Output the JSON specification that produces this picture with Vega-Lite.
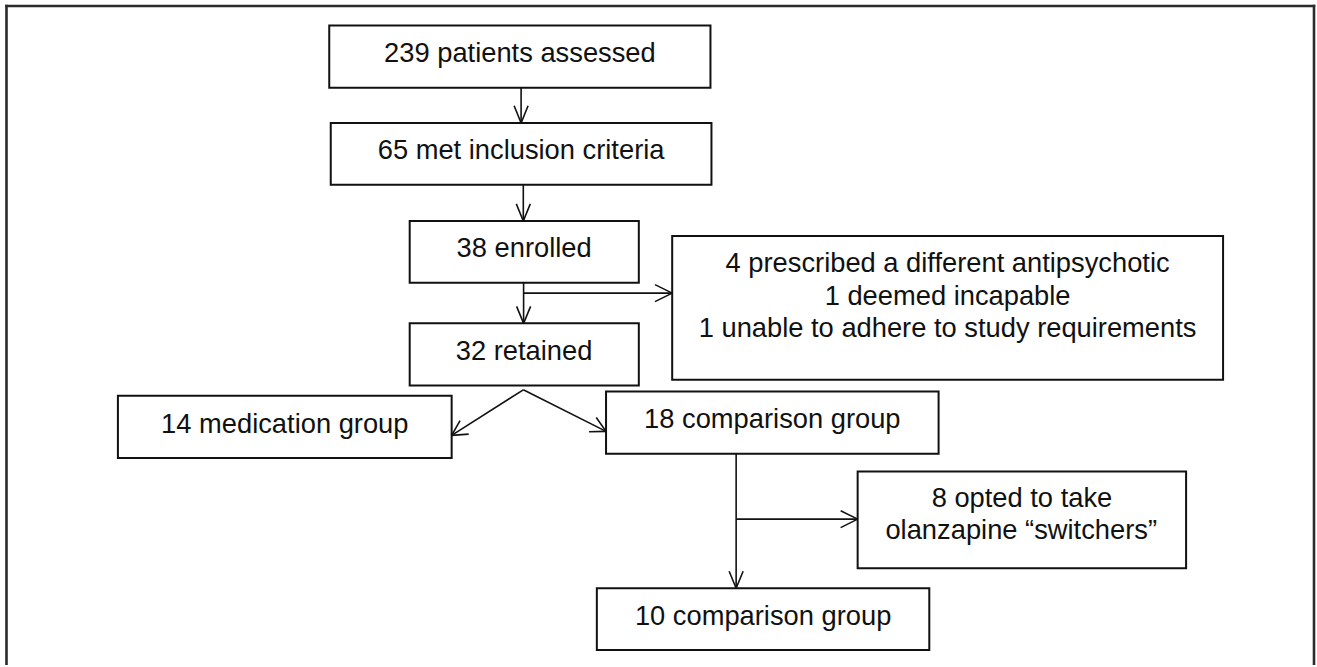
{
  "$schema": "https://vega.github.io/schema/vega-lite/v6.json",
  "width": 1317,
  "height": 667,
  "padding": 0,
  "autosize": {"type": "fit", "contains": "padding"},
  "background": "white",
  "config": {"view": {"stroke": null}},
  "datasets": {
    "boxes": [
      {"id": "assessed", "x": 329.5, "x2": 711, "y": 25.7, "y2": 88},
      {"id": "inclusion", "x": 331, "x2": 712, "y": 123.3, "y2": 185.3},
      {"id": "enrolled", "x": 410, "x2": 639.3, "y": 221.7, "y2": 283.7},
      {"id": "retained", "x": 410, "x2": 639.3, "y": 324.3, "y2": 386.7},
      {"id": "excluded", "x": 672.7, "x2": 1224, "y": 236.7, "y2": 381},
      {"id": "medication", "x": 118, "x2": 452, "y": 397, "y2": 459.3},
      {"id": "comparison18", "x": 606.5, "x2": 939.3, "y": 392.7, "y2": 455},
      {"id": "switchers", "x": 858.3, "x2": 1187, "y": 473, "y2": 570},
      {"id": "comparison10", "x": 597.3, "x2": 930, "y": 590, "y2": 652}
    ],
    "segments": [
      {"x": 521.5, "y": 88, "x2": 521.5, "y2": 123.3},
      {"x": 514.5, "y": 106, "x2": 521.5, "y2": 123.3},
      {"x": 528.5, "y": 106, "x2": 521.5, "y2": 123.3},
      {"x": 523.7, "y": 185.3, "x2": 523.7, "y2": 221.7},
      {"x": 516.7, "y": 204.5, "x2": 523.7, "y2": 221.7},
      {"x": 530.7, "y": 204.5, "x2": 523.7, "y2": 221.7},
      {"x": 524, "y": 283.7, "x2": 524, "y2": 324.3},
      {"x": 517, "y": 307.3, "x2": 524, "y2": 324.3},
      {"x": 531, "y": 307.3, "x2": 524, "y2": 324.3},
      {"x": 524, "y": 294, "x2": 672.7, "y2": 294},
      {"x": 655.5, "y": 285.5, "x2": 672.7, "y2": 294},
      {"x": 655.5, "y": 302.5, "x2": 672.7, "y2": 294},
      {"x": 523.7, "y": 391, "x2": 452, "y2": 436.7},
      {"x": 469, "y": 435.4, "x2": 452, "y2": 436.7},
      {"x": 460.4, "y": 421.9, "x2": 452, "y2": 436.7},
      {"x": 523.7, "y": 391, "x2": 606.5, "y2": 432.7},
      {"x": 589.5, "y": 433, "x2": 606.5, "y2": 432.7},
      {"x": 596.7, "y": 418.8, "x2": 606.5, "y2": 432.7},
      {"x": 736.7, "y": 455, "x2": 736.7, "y2": 590},
      {"x": 729.7, "y": 573, "x2": 736.7, "y2": 590},
      {"x": 743.7, "y": 573, "x2": 736.7, "y2": 590},
      {"x": 736.7, "y": 520.7, "x2": 858.3, "y2": 520.7},
      {"x": 841.3, "y": 512.2, "x2": 858.3, "y2": 520.7},
      {"x": 841.3, "y": 529.2, "x2": 858.3, "y2": 520.7}
    ],
    "frame": [
      {"x": 6.5, "y": 4.8, "x2": 6.5, "y2": 667},
      {"x": 5.3, "y": 6, "x2": 1316.2, "y2": 6},
      {"x": 1315, "y": 4.8, "x2": 1315, "y2": 667}
    ],
    "labels": [
      {"text": "239 patients assessed", "x": 520.3, "y": 61.7},
      {"text": "65 met inclusion criteria", "x": 521.5, "y": 159.8},
      {"text": "38 enrolled", "x": 524.5, "y": 258},
      {"text": "32 retained", "x": 524.5, "y": 361},
      {"text": "4 prescribed a different antipsychotic", "x": 948.3, "y": 273.3},
      {"text": "1 deemed incapable", "x": 948.3, "y": 305.5},
      {"text": "1 unable to adhere to study requirements", "x": 948.3, "y": 338},
      {"text": "14 medication group", "x": 285, "y": 434},
      {"text": "18 comparison group", "x": 772.9, "y": 429},
      {"text": "8 opted to take", "x": 1022.7, "y": 509},
      {"text": "olanzapine “switchers”", "x": 1022, "y": 541},
      {"text": "10 comparison group", "x": 763.7, "y": 626.5}
    ]
  },
  "layer": [
    {
      "data": {"name": "frame"},
      "mark": {"type": "rule", "stroke": "#2b2b2b", "strokeWidth": 2.6},
      "encoding": {
        "x": {"field": "x", "type": "quantitative", "scale": {"domain": [0, 1317], "nice": false, "zero": false}, "axis": null},
        "y": {"field": "y", "type": "quantitative", "scale": {"domain": [0, 667], "nice": false, "zero": false, "reverse": true}, "axis": null},
        "x2": {"field": "x2"},
        "y2": {"field": "y2"}
      }
    },
    {
      "data": {"name": "boxes"},
      "mark": {"type": "rect", "fill": "white", "stroke": "#111111", "strokeWidth": 2},
      "encoding": {
        "x": {"field": "x", "type": "quantitative", "scale": {"domain": [0, 1317], "nice": false, "zero": false}, "axis": null},
        "y": {"field": "y", "type": "quantitative", "scale": {"domain": [0, 667], "nice": false, "zero": false, "reverse": true}, "axis": null},
        "x2": {"field": "x2"},
        "y2": {"field": "y2"}
      }
    },
    {
      "data": {"name": "segments"},
      "mark": {"type": "rule", "stroke": "#111111", "strokeWidth": 1.6},
      "encoding": {
        "x": {"field": "x", "type": "quantitative", "scale": {"domain": [0, 1317], "nice": false, "zero": false}, "axis": null},
        "y": {"field": "y", "type": "quantitative", "scale": {"domain": [0, 667], "nice": false, "zero": false, "reverse": true}, "axis": null},
        "x2": {"field": "x2"},
        "y2": {"field": "y2"}
      }
    },
    {
      "data": {"name": "labels"},
      "mark": {"type": "text", "align": "center", "baseline": "alphabetic", "font": "Liberation Sans", "fontSize": 27.3, "fill": "#111111"},
      "encoding": {
        "x": {"field": "x", "type": "quantitative", "scale": {"domain": [0, 1317], "nice": false, "zero": false}, "axis": null},
        "y": {"field": "y", "type": "quantitative", "scale": {"domain": [0, 667], "nice": false, "zero": false, "reverse": true}, "axis": null},
        "text": {"field": "text"}
      }
    }
  ]
}
